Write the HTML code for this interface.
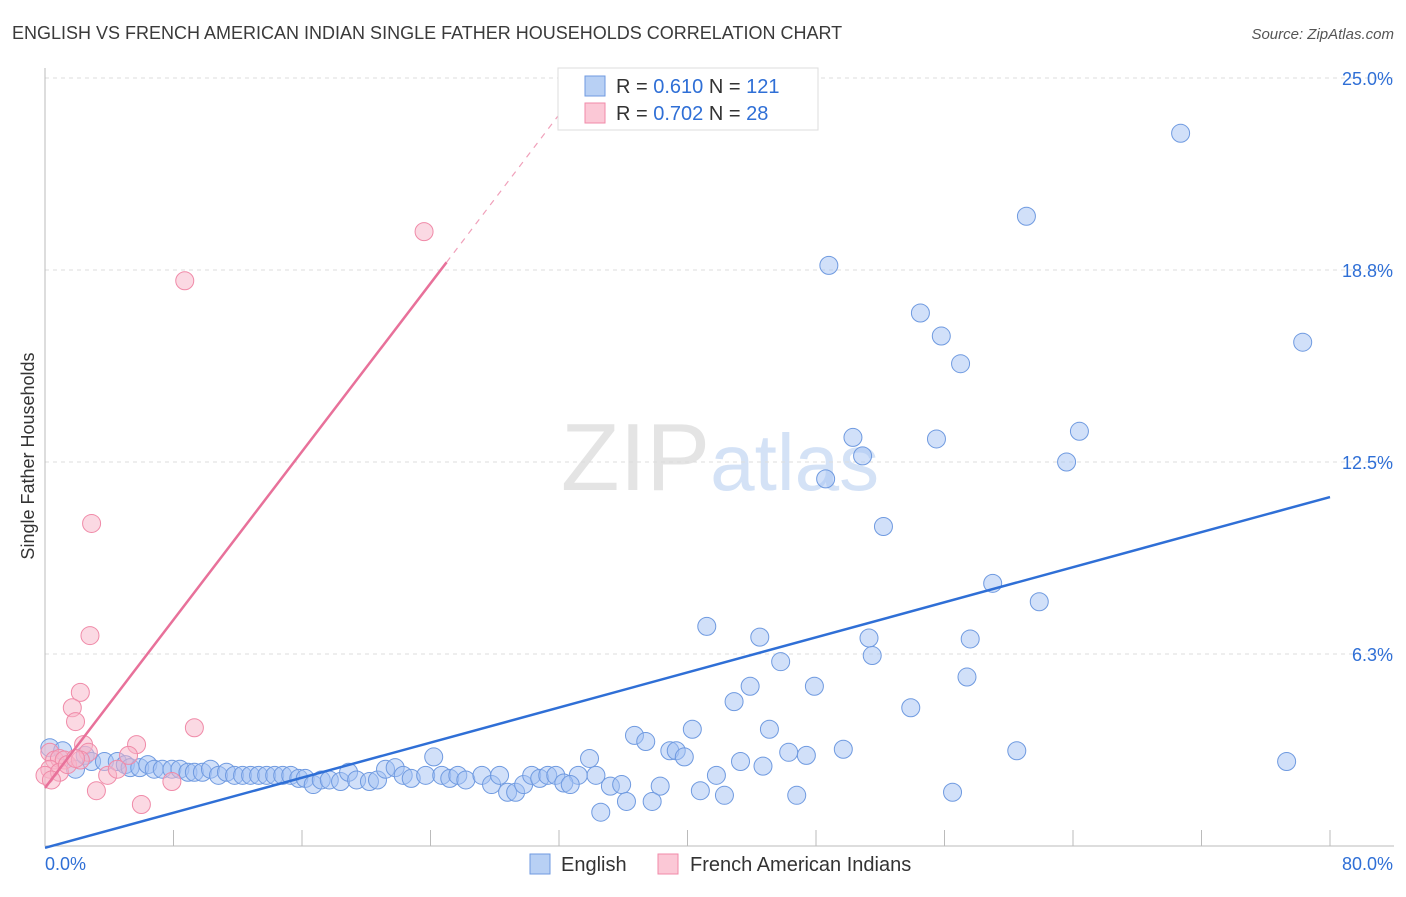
<!DOCTYPE html>
<html><head><meta charset="utf-8">
<style>
body{margin:0;background:#fff;font-family:"Liberation Sans",sans-serif;}
svg text{font-family:"Liberation Sans",sans-serif;}
</style></head>
<body>
<svg id="chart" width="1406" height="892" viewBox="0 0 1406 892" xmlns="http://www.w3.org/2000/svg">
<text x="12" y="39" font-size="18" fill="#3a3a3a">ENGLISH VS FRENCH AMERICAN INDIAN SINGLE FATHER HOUSEHOLDS CORRELATION CHART</text>
<text x="1394" y="39" font-size="15" fill="#555" font-style="italic" text-anchor="end">Source: ZipAtlas.com</text>
<text x="720" y="490" font-size="96" text-anchor="middle" fill="#e4e4e4" font-family="Liberation Serif"><tspan>ZIP</tspan><tspan fill="#d4e2f6" font-family="Liberation Sans" font-size="80">atlas</tspan></text>
<g id="grid"></g>
<g id="axes"></g>
<g id="pts"></g>
<g id="lines"></g>
<text transform="translate(34,456) rotate(-90)" font-size="18" fill="#333" text-anchor="middle">Single Father Households</text>
<g>
<rect x="558" y="68" width="260" height="62" fill="#fff" stroke="#ddd"/>
<rect x="585" y="76" width="20" height="20" fill="#b8d0f4" stroke="#6f9ae0"/>
<text x="616" y="93" font-size="20" fill="#333">R = <tspan fill="#2f6fd6">0.610</tspan>   N = <tspan fill="#2f6fd6">121</tspan></text>
<rect x="585" y="103" width="20" height="20" fill="#fbc8d6" stroke="#f08aa8"/>
<text x="616" y="120" font-size="20" fill="#333">R = <tspan fill="#2f6fd6">0.702</tspan>   N =  <tspan fill="#2f6fd6">28</tspan></text>
</g>
<g>
<rect x="530" y="854" width="20" height="20" fill="#b8d0f4" stroke="#6f9ae0"/>
<text x="561" y="871" font-size="20" fill="#333">English</text>
<rect x="658" y="854" width="20" height="20" fill="#fbc8d6" stroke="#f08aa8"/>
<text x="690" y="871" font-size="20" fill="#333">French American Indians</text>
</g>
</svg>
<script>
const xTickValues=[0,8,16,24,32,40,48,56,64,72,80];
const yTickValues=[6.25,12.5,18.75,25];
const yTickLabels=["6.3%","12.5%","18.8%","25.0%"];
const xEndLabels=["0.0%","80.0%"];
const englishX=[70.7,61.1,48.8,54.5,55.8,78.3,57.0,50.3,55.5,64.4,50.9,63.6,48.6,52.2,59.0,61.9,41.2,44.5,51.3,57.6,51.5,45.8,43.9,47.9,57.4,42.9,53.9,40.3,45.1,36.7,37.4,38.9,39.3,39.8,49.7,60.5,46.3,47.4,33.9,24.2,43.3,44.7,77.3,41.8,34.3,33.2,35.2,35.9,38.3,40.8,42.3,46.8,56.5,36.2,37.8,34.6,
0.3,1.1,1.9,2.5,2.9,3.7,4.5,5.0,5.3,5.9,6.4,6.8,7.3,7.9,8.4,8.9,9.3,9.8,10.3,10.8,11.3,11.8,12.3,12.8,13.3,13.8,14.3,14.8,15.3,15.8,16.2,16.7,17.2,17.7,18.4,18.9,19.4,20.2,20.7,21.2,21.8,22.3,22.8,23.7,24.7,25.2,25.7,26.2,27.2,27.8,28.3,28.8,29.3,29.8,30.3,30.8,31.3,31.8,32.3,32.7];
const englishY=[23.2,20.5,18.9,17.35,16.6,16.4,15.7,13.3,13.25,13.5,12.7,12.5,11.95,10.4,8.55,7.95,7.15,6.8,6.77,6.74,6.2,6.0,5.2,5.2,5.5,4.7,4.5,3.8,3.8,3.6,3.4,3.1,3.1,2.9,3.15,3.1,3.05,2.95,2.85,2.9,2.75,2.6,2.75,2.3,2.3,2.3,1.95,2.0,1.95,1.8,1.65,1.65,1.75,1.45,1.45,1.1,
3.2,3.1,2.5,2.95,2.75,2.75,2.75,2.65,2.55,2.55,2.65,2.5,2.5,2.5,2.5,2.4,2.4,2.4,2.5,2.3,2.4,2.3,2.3,2.3,2.3,2.3,2.3,2.3,2.3,2.2,2.2,2.0,2.15,2.15,2.1,2.4,2.15,2.1,2.15,2.5,2.55,2.3,2.2,2.3,2.3,2.2,2.3,2.15,2.3,2.0,2.3,1.75,1.75,2.0,2.3,2.2,2.3,2.3,2.05,2.0];
const frenchX=[23.6,8.7,2.9,2.8,2.2,1.7,1.9,9.3,5.7,2.4,5.2,2.7,0.3,0.6,0.9,1.2,0.3,0.0,0.9,1.4,2.2,3.9,4.5,3.2,6.0,7.9,0.4,1.9];
const frenchY=[20.0,18.4,10.5,6.85,5.0,4.5,4.05,3.85,3.3,3.3,2.95,3.05,3.05,2.8,2.85,2.8,2.5,2.3,2.4,2.65,2.8,2.3,2.5,1.8,1.35,2.1,2.15,2.85];
const englishTrend=[[0,-0.06],[80,11.36]];
const frenchTrend=[[0,1.89],[25,19.0],[33.3,24.7]];

const X0=45,X1=1330,Y0=846,Y25=78;
const sx=v=>X0+(X1-X0)*v/80;
const sy=v=>Y0-(Y0-Y25)*v/25;
const NS="http://www.w3.org/2000/svg";
function mk(tag,attrs,parent){const e=document.createElementNS(NS,tag);for(const k in attrs)e.setAttribute(k,attrs[k]);parent.appendChild(e);return e;}
const grid=document.getElementById('grid'),axes=document.getElementById('axes'),pts=document.getElementById('pts'),lines=document.getElementById('lines');
yTickValues.forEach((v,i)=>{
  const l=mk('line',{x1:X0,x2:1394,y1:sy(v),y2:sy(v),stroke:'#ddd','stroke-dasharray':'4,4'},grid);
  
  
  const t=mk('text',{x:1393,y:sy(v)+7,'font-size':18,fill:'#2f6fd6','text-anchor':'end'},axes);
  t.textContent=yTickLabels[i];
  
  
});
const ax=mk('line',{x1:X0,x2:X0,y1:68,y2:Y0,stroke:'#bbb'},axes);


const bx=mk('line',{x1:X0,x2:1394,y1:Y0,y2:Y0,stroke:'#bbb'},axes);


xTickValues.forEach(v=>{
  const t=mk('line',{x1:sx(v),x2:sx(v),y1:Y0,y2:Y0-16,stroke:'#bbb'},axes);
  
  
});
[[0,'start',45],[80,'end',1393]].forEach((a,i)=>{
  const t=mk('text',{x:a[2],y:870,'font-size':18,fill:'#2f6fd6','text-anchor':a[1]},axes);
  t.textContent=xEndLabels[i];
  
  
});
englishX.forEach((x,i)=>{
  const c=mk('circle',{cx:sx(x),cy:sy(englishY[i]),r:9,fill:'rgba(164,194,244,0.5)',stroke:'#6f9ae0','stroke-width':1},pts);
  
  
});
frenchX.forEach((x,i)=>{
  const c=mk('circle',{cx:sx(x),cy:sy(frenchY[i]),r:9,fill:'rgba(248,180,200,0.5)',stroke:'#f08aa8','stroke-width':1},pts);
  
  
});
const bl=mk('line',{x1:sx(englishTrend[0][0]),y1:sy(englishTrend[0][1]),x2:sx(englishTrend[1][0]),y2:sy(englishTrend[1][1]),stroke:'#2f6fd6','stroke-width':2.5},lines);


const pl=mk('line',{x1:sx(frenchTrend[0][0]),y1:sy(frenchTrend[0][1]),x2:sx(frenchTrend[1][0]),y2:sy(frenchTrend[1][1]),stroke:'#e8719a','stroke-width':2.5},lines);


const pd=mk('line',{x1:sx(frenchTrend[1][0]),y1:sy(frenchTrend[1][1]),x2:sx(frenchTrend[2][0]),y2:sy(frenchTrend[2][1]),stroke:'#f0a0ba','stroke-width':1.2,'stroke-dasharray':'6,6'},lines);


</script>
</body></html>
